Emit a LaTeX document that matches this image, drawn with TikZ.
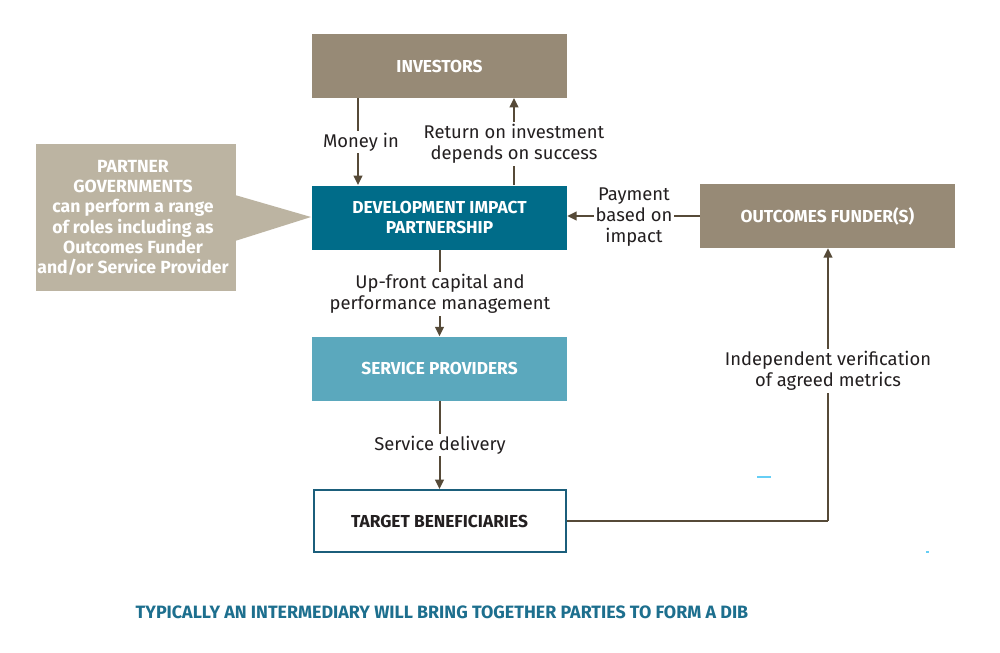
\documentclass[tikz,border=0pt]{standalone}
\usepackage{fontspec}
\setmainfont{Fira Sans}
\usetikzlibrary{arrows.meta}
\definecolor{taupe}{HTML}{978A76}
\definecolor{lighttaupe}{HTML}{BCB4A2}
\definecolor{darkteal}{HTML}{006C89}
\definecolor{midteal}{HTML}{5BA8BD}
\definecolor{bordteal}{HTML}{1B5E7B}
\definecolor{arrowbrown}{HTML}{564A38}
\definecolor{captionblue}{HTML}{1D6F8E}
\definecolor{labeltext}{HTML}{231F20}
\begin{document}
\begin{tikzpicture}[x=0.75pt,y=-0.75pt,
  boxstyle/.style={minimum width=191.25pt,minimum height=48pt,inner sep=0pt,align=center,
    font=\fontsize{13}{15.5}\selectfont\bfseries,text=white},
  lbl/.style={fill=white,inner sep=1.5pt,align=center,text=labeltext,
    font=\fontsize{13.8}{15.8}\selectfont},
  conn/.style={draw=arrowbrown,line width=1.5pt,-{Triangle[length=7pt,width=6.5pt]}},
  plain/.style={draw=arrowbrown,line width=1.5pt}]
\useasboundingbox (0,0) rectangle (1000,653);
\fill[white] (0,0) rectangle (1000,653);
% callout
\fill[lighttaupe] (36,144) rectangle (236,291);
\fill[lighttaupe] (235,195) -- (311,217) -- (235,241) -- cycle;
\node[align=center,text=white,font=\fontsize{13.2}{15.2}\selectfont\bfseries] (callout) at (133,218)
  {PARTNER\\GOVERNMENTS\\can perform a range\\of roles including as\\Outcomes Funder\\and/or Service Provider};
% boxes
\node[boxstyle,fill=taupe] (inv) at (439.5,66) {INVESTORS};
\node[boxstyle,fill=darkteal] (dip) at (439.5,217.5) {DEVELOPMENT IMPACT\\PARTNERSHIP};
\node[boxstyle,fill=taupe] (of) at (827.5,216) {OUTCOMES FUNDER(S)};
\node[boxstyle,fill=midteal] (sp) at (439.5,368.5) {SERVICE PROVIDERS};
\node[boxstyle,fill=white,draw=bordteal,line width=1.5pt,text=labeltext,minimum width=189pt,minimum height=46.5pt] (tb) at (439.5,521) {TARGET BENEFICIARIES};
% connectors
\coordinate (mtop) at (358,98);
\coordinate (mbot) at (358,185);
\draw[conn] (mtop) -- (mbot);
\node[lbl] (moneylbl) at (361,142) {Money in};
\coordinate (rbot) at (514,185);
\coordinate (rtop) at (514,98);
\draw[conn] (rbot) -- (rtop);
\node[lbl] (retlbl) at (514,144) {Return on investment\\depends on success};
\draw[conn] (of.west) -- (dip.east |- of.west);
\node[lbl] (paylbl) at (634,217) {Payment\\based on\\impact};
\draw[conn] (dip.south) -- (sp.north);
\node[lbl] (uplbl) at (440,294) {Up-front capital and\\performance management};
\draw[conn] (sp.south) -- (tb.north);
\node[lbl] (sdlbl) at (440,445) {Service delivery};
\coordinate (corner) at (828,521);
\draw[plain] (tb.east) -- (corner);
\draw[conn] (corner) -- (of.south -| corner);
\node[lbl] (verlbl) at (828,371) {Independent verification\\of agreed metrics};
% caption
\node[text=captionblue,font=\fontsize{13.4}{16}\selectfont\bfseries] (caption) at (442,612)
  {TYPICALLY AN INTERMEDIARY WILL BRING TOGETHER PARTIES TO FORM A DIB};
% small marks
\draw[cyan!60,line width=0.8pt] (757,477) -- (771,477);
\fill[cyan!60] (926,551) rectangle (929,553);
\end{tikzpicture}
\end{document}
